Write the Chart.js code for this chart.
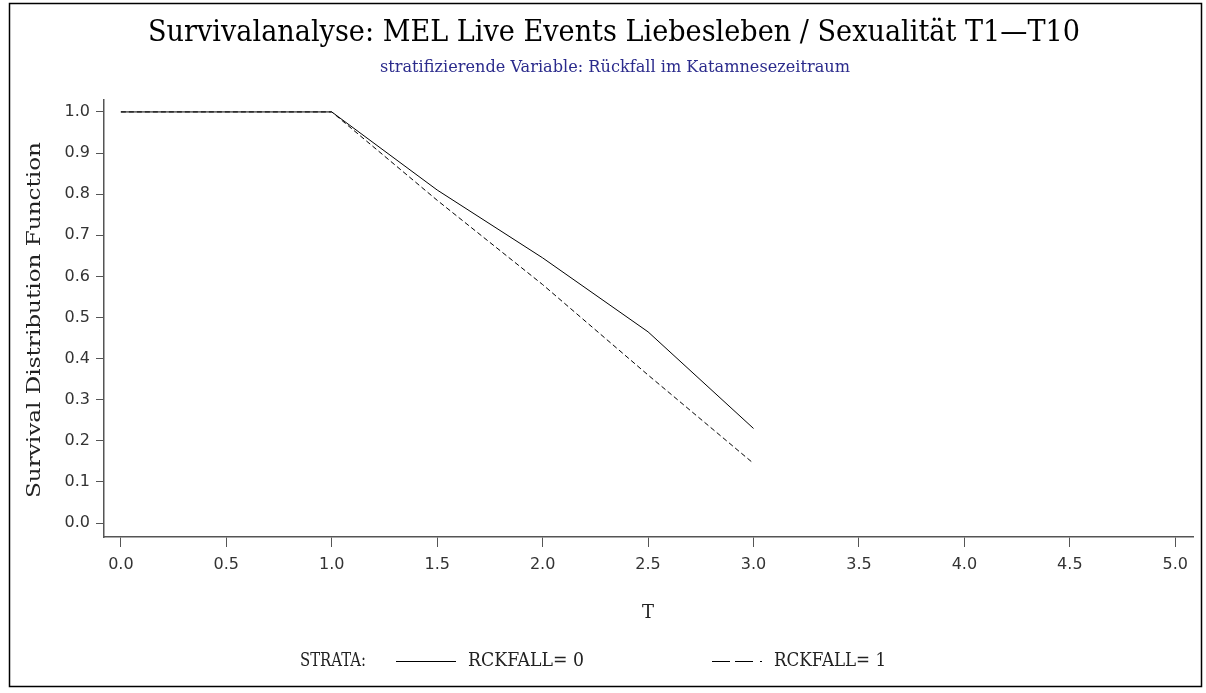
<!DOCTYPE html>
<html>
<head>
<meta charset="utf-8">
<script src="https://cdn.jsdelivr.net/npm/chart.js@4.4.0/dist/chart.umd.min.js"></script>
<style>
  html,body{margin:0;padding:0;background:#fff;}
  #wrap{width:1206px;height:693px;}
</style>
</head>
<body>
<div id="wrap"><canvas id="c" width="1206" height="693"></canvas></div>
<script>
// --- data ---
const timePoints = [0, 1, 1.5, 2, 2.5, 3];
const survival0 = [1, 1, 0.81, 0.645, 0.465, 0.23];
const survival1 = [1, 1, 0.785, 0.58, 0.36, 0.145];
const xTicks = [0, 0.5, 1, 1.5, 2, 2.5, 3, 3.5, 4, 4.5, 5];
const yTicks = [0, 0.1, 0.2, 0.3, 0.4, 0.5, 0.6, 0.7, 0.8, 0.9, 1];
const seriesLabels = ["RCKFALL= 0", "RCKFALL= 1"];
const titleText = "Survivalanalyse: MEL Live Events Liebesleben / Sexualität T1\u2014T10";
const subtitleText = "stratifizierende Variable: Rückfall im Katamnesezeitraum";
const yTitle = "Survival Distribution Function";
const xTitle = "T";
const strataText = "STRATA:";

const serif = "'DejaVu Serif', serif";
const sans = "'DejaVu Sans', sans-serif";
const axisColor = "#555";
const tickFont = { family: sans, size: 16 };

function toPoints(ys){ return timePoints.map((t,i)=>({x:t,y:ys[i]})); }

// draw text squeezed horizontally to a target width (the SAS font is condensed)
function squeezed(ctx, text, x, y, size, target, align){
  ctx.font = `${size}px ${serif}`;
  const w = ctx.measureText(text).width;
  const k = target / w;
  ctx.save();
  ctx.translate(x, y);
  ctx.scale(k, 1);
  ctx.textAlign = align || "center";
  ctx.fillText(text, 0, 0);
  ctx.restore();
}

const decorPlugin = {
  id: "decor",
  afterDraw(chart){
    const ctx = chart.ctx;
    ctx.save();
    // outer frame
    ctx.strokeStyle = "#000";
    ctx.lineWidth = 1.5;
    ctx.strokeRect(9.5, 3.5, 1192, 683);

    ctx.textBaseline = "middle";
    ctx.fillStyle = "#000";
    squeezed(ctx, titleText, 614, 33, 29, 932);

    ctx.fillStyle = "#2b2b8c";
    squeezed(ctx, subtitleText, 615, 68, 17, 470);

    // y title
    ctx.fillStyle = "#222";
    ctx.save();
    ctx.translate(35, 320);
    ctx.rotate(-Math.PI/2);
    squeezed(ctx, yTitle, 0, 0, 18, 356);
    ctx.restore();

    // x title
    squeezed(ctx, xTitle, 648, 613, 19, 12);

    // legend
    const ly = 661;
    squeezed(ctx, strataText, 300, ly, 18, 66, "left");
    ctx.strokeStyle = "#000";
    ctx.lineWidth = 1;
    const legendDash = [[], [18, 5, 18, 7, 2, 100]];
    const sampleX = [396, 712];
    const sampleW = [60, 50];
    const labelW = [116, 112];
    chart.data.datasets.forEach((ds, i) => {
      const x0 = sampleX[i];
      ctx.beginPath();
      ctx.setLineDash(legendDash[i]);
      ctx.moveTo(x0, ly + 0.5);
      ctx.lineTo(x0 + sampleW[i], ly + 0.5);
      ctx.stroke();
      ctx.setLineDash([]);
      squeezed(ctx, ds.label, x0 + sampleW[i] + 12, ly, 18, labelW[i], "left");
    });
    ctx.restore();
  }
};

new Chart(document.getElementById("c"), {
  type: "line",
  data: {
    datasets: [
      { label: seriesLabels[0], data: toPoints(survival0), borderColor: "#000", borderWidth: 1, pointRadius: 0, tension: 0 },
      { label: seriesLabels[1], data: toPoints(survival1), borderColor: "#000", borderWidth: 1, borderDash: [5, 3], pointRadius: 0, tension: 0 }
    ]
  },
  options: {
    responsive: false,
    animation: false,
    devicePixelRatio: 1,
    layout: { padding: { left: 0, top: 100, right: 13, bottom: 0 } },
    plugins: { legend: { display: false }, tooltip: { enabled: false }, title: { display: false } },
    scales: {
      x: {
        type: "linear",
        min: -0.08, max: 5.084,
        afterBuildTicks: sc => { sc.ticks = xTicks.map(v => ({ value: v })); },
        afterFit: sc => { sc.height = 156; },
        ticks: { callback: v => v.toFixed(1), color: "#333", font: tickFont, padding: 8, maxRotation: 0, autoSkip: false },
        grid: { drawOnChartArea: false, drawTicks: true, tickLength: 10, color: axisColor },
        border: { display: true, color: axisColor, width: 1.5 }
      },
      y: {
        type: "linear",
        min: -0.034, max: 1.029,
        afterBuildTicks: sc => { sc.ticks = yTicks.map(v => ({ value: v })); },
        afterFit: sc => { sc.width = 104; },
        ticks: { callback: v => v.toFixed(1), color: "#333", font: tickFont, padding: 6, autoSkip: false },
        grid: { drawOnChartArea: false, drawTicks: true, tickLength: 8, color: axisColor },
        border: { display: true, color: axisColor, width: 1.5 }
      }
    }
  },
  plugins: [decorPlugin]
});
</script>
</body>
</html>
